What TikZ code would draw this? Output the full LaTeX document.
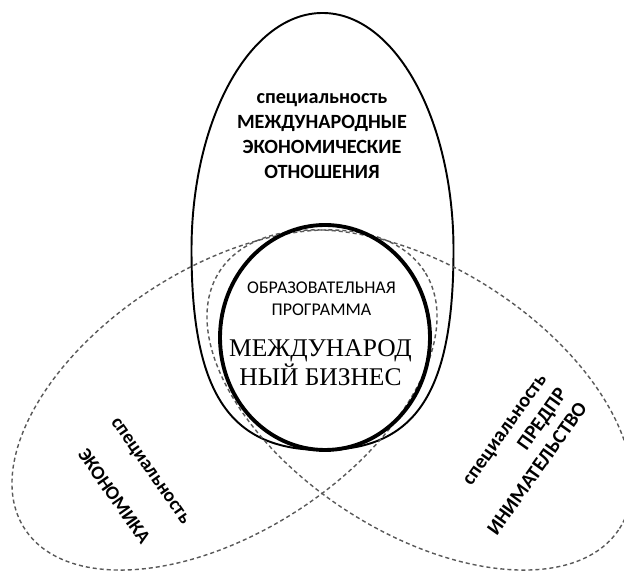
\documentclass[tikz,border=0pt]{standalone}
\usepackage{fontspec}
\setmainfont{Carlito}
\newfontfamily\serifbig{Liberation Serif}
\usetikzlibrary{shapes.geometric}

\begin{document}
\begin{tikzpicture}[
  line width=1.1pt,
    area/.style={draw=black!65, dash pattern=on 2.3pt off 1.7pt, line width=0.8pt, ellipse,
                 minimum width=9.51cm, minimum height=5.3cm, inner sep=0pt},
    prog/.style={draw, ellipse, line width=2.2pt, minimum width=4.2cm, minimum height=4.5cm,
                 inner sep=0pt},
    lbl/.style={font=\fontsize{11.5}{14.2}\selectfont\bfseries, align=center, inner sep=0pt},
    plbl/.style={font=\fontsize{10.2}{12.5}\selectfont, align=center, inner sep=0pt},
    big/.style={font=\fontsize{14.5}{14.2}\selectfont\serifbig, align=center, inner sep=0pt},
]
\useasboundingbox (0,0) rectangle (12.48,11.44);
\clip (0,0) rectangle (12.48,11.44);
% speciality MEO
\draw (3.83,6.44) arc[start angle=180, end angle=0, x radius=2.62, y radius=4.74]
  .. controls (9.07,3.64) and (8.35,2.44) .. (6.45,2.44)
  .. controls (4.55,2.44) and (3.83,3.64) .. cycle;
\node[area, rotate=32.7] (econ) at (4.49,3.44) {};
\node[area, rotate=-32.7] (pred) at (8.39,3.44) {};
\node[prog] (ib) at (6.5,4.69) {};
\node[lbl] (meo) at (6.44,8.72) {специальность\\МЕЖДУНАРОДНЫЕ\\ЭКОНОМИЧЕСКИЕ\\ОТНОШЕНИЯ};
\node[plbl] (op) at (6.43,5.46) {ОБРАЗОВАТЕЛЬНАЯ\\ПРОГРАММА};
\node[big] (ibname) at (6.41,4.19) {МЕЖДУНАРОД\\НЫЙ БИЗНЕС};
\node[lbl, font=\fontsize{11}{14}\selectfont\bfseries, rotate=-55] (econlbl) at (2.635,1.76)
  {специальность\\[12pt]ЭКОНОМИКА};
\node[lbl, align=right, rotate=54.5] (predlbl) at (10.36,2.34)
  {специальность\\ПРЕДПР\\ИНИМАТЕЛЬСТВО};
\end{tikzpicture}
\end{document}
